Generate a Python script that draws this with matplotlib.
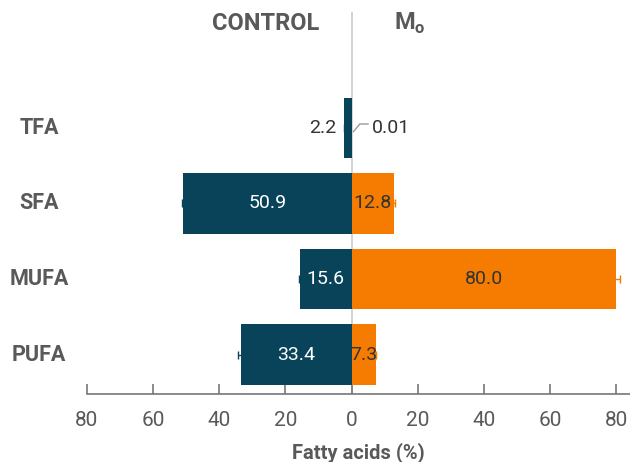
import matplotlib
matplotlib.use("Agg")
import matplotlib.pyplot as plt
import numpy as np

plt.rcParams['font.family'] = ['Roboto', 'DejaVu Sans']
plt.rcParams['mathtext.fontset'] = 'custom'
plt.rcParams['mathtext.bf'] = 'Roboto:bold'
plt.rcParams['mathtext.rm'] = 'Roboto'

categories = ['TFA', 'SFA', 'MUFA', 'PUFA']
control = [2.2, 50.9, 15.6, 33.4]
control_err = [0.2, 0.5, 0.3, 0.9]
mo = [0.01, 12.8, 80.0, 7.3]
mo_err = [np.nan, 0.4, 1.2, 0.2]
ticks = [-80, -60, -40, -20, 0, 20, 40, 60, 80]

teal = '#08435a'
orange = '#f57c00'
gray = '#595959'

fig = plt.figure(figsize=(6.3, 4.62), dpi=100)
ax = fig.add_axes([0.138, 0.147, 0.862, 0.827])

y = np.arange(len(categories))
ctrl = -np.array(control)
ax.barh(y, ctrl, height=0.8, color=teal, zorder=2)
ax.barh(y, mo, height=0.8, color=orange, zorder=2)
ax.errorbar(ctrl, y, xerr=control_err, fmt='none', ecolor=teal, capsize=3,
            elinewidth=1, zorder=3)
ax.errorbar(mo, y, xerr=mo_err, fmt='none', ecolor=orange, capsize=3,
            elinewidth=1, zorder=3)

ax.axvline(0, color='#cccccc', lw=1.2, zorder=1)

ax.set_xlim(-80, 84.2)
ax.set_ylim(3.52, -1.53)
ax.set_yticks([])
ax.set_xticks(ticks)
ax.set_xticklabels([str(abs(t)) for t in ticks], fontsize=15, color=gray)
ax.tick_params(axis='x', direction='in', length=7, width=1.2, color='#777777', pad=12)
for s in ['top', 'right', 'left']:
    ax.spines[s].set_visible(False)
ax.spines['bottom'].set_color('#777777')
ax.spines['bottom'].set_linewidth(1.2)
ax.set_xlabel('Fatty acids (%)', fontsize=14.5, fontweight='bold', color=gray, labelpad=9)

# category labels
for yi, c in zip(y, categories):
    ax.text(-94.5, yi, c, ha='center', va='center', fontsize=15.5,
            fontweight='bold', color=gray, clip_on=False)

# value labels
for yi, v in zip(y, control):
    if v < 5:
        ax.text(-v - 2.5, yi, f'{v:.1f}', ha='right', va='center', fontsize=14, color='#333333')
    else:
        ax.text(-v / 2, yi, f'{v:.1f}', ha='center', va='center', fontsize=14, color='white')
for yi, v in zip(y, mo):
    if v < 1:
        ax.plot([0.6, 2.5, 5.0], [0.05, -0.05, -0.05], color='#999999', lw=1, zorder=3)
        ax.text(6.3, yi, f'{v:.2f}', ha='left', va='center', fontsize=14, color='#333333')
    else:
        ax.text(v / 2, yi, f'{v:.1f}', ha='center', va='center', fontsize=14, color='#333333')

ax.text(-26, -1.38, 'CONTROL', ha='center', va='center', fontsize=17,
        fontweight='bold', color=gray)
ax.text(17.5, -1.38, r'$\mathbf{M}_\mathbf{o}$', ha='center', va='center', fontsize=17,
        color=gray)

fig.savefig('out.png', dpi=100)
